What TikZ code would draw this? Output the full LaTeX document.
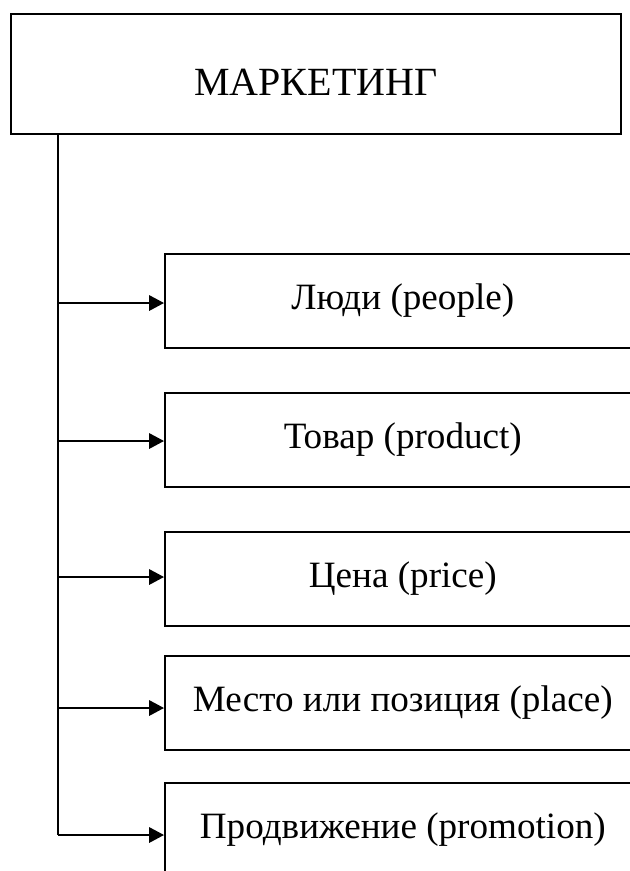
\documentclass[tikz,border=0pt]{standalone}
\usepackage{fontspec}
\setmainfont{Liberation Serif}
\usetikzlibrary{arrows.meta,positioning}

\begin{document}
\begin{tikzpicture}[x=0.35pt, y=-0.35pt,
        caja/.style={draw, line width=0.6pt, anchor=north west, inner sep=0pt,
            minimum width=166.6pt, minimum height=32.9pt,
            text height=9.2pt, text depth=2.9pt,
            font=\fontsize{13}{15}\selectfont},
        flecha/.style={-{Triangle[length=5.2pt,width=5.4pt]}, line width=0.6pt}]
        % Paso 1: Fija el marco del dibujo
        \useasboundingbox (0,0) rectangle (630,871);

        % Paso 2: Caja principal
        \node[caja, minimum width=213.5pt, minimum height=42pt,
            text height=15.4pt, text depth=0pt,
            font=\fontsize{14}{16}\selectfont] (mkt) at (10,13) {МАРКЕТИНГ};

        % Paso 3: Cajas de los elementos (cortadas por el borde)
        \node[caja] (people) at (164,253) {Люди (people)};
        \node[caja] (product) at (164,392) {Товар (product)};
        \node[caja] (price) at (164,531) {Цена (price)};
        \node[caja] (place) at (164,655) {Место или позиция (place)};
        \node[caja] (promo) at (164,782) {Продвижение (promotion)};

        % Paso 4: Puntos de salida sobre la línea vertical
        \coordinate (a1) at (58,303);
        \coordinate (a2) at (58,441);
        \coordinate (a3) at (58,577);
        \coordinate (a4) at (58,708);
        \coordinate (a5) at (58,835);

        % Paso 5: Línea vertical y flechas
        \draw[line width=0.6pt] (mkt.south -| a5) -- (a5);
        \draw[flecha] (a1) -- (a1 -| people.west);
        \draw[flecha] (a2) -- (a2 -| product.west);
        \draw[flecha] (a3) -- (a3 -| price.west);
        \draw[flecha] (a4) -- (a4 -| place.west);
        \draw[flecha] (a5) -- (a5 -| promo.west);
    \end{tikzpicture}
\end{document}
